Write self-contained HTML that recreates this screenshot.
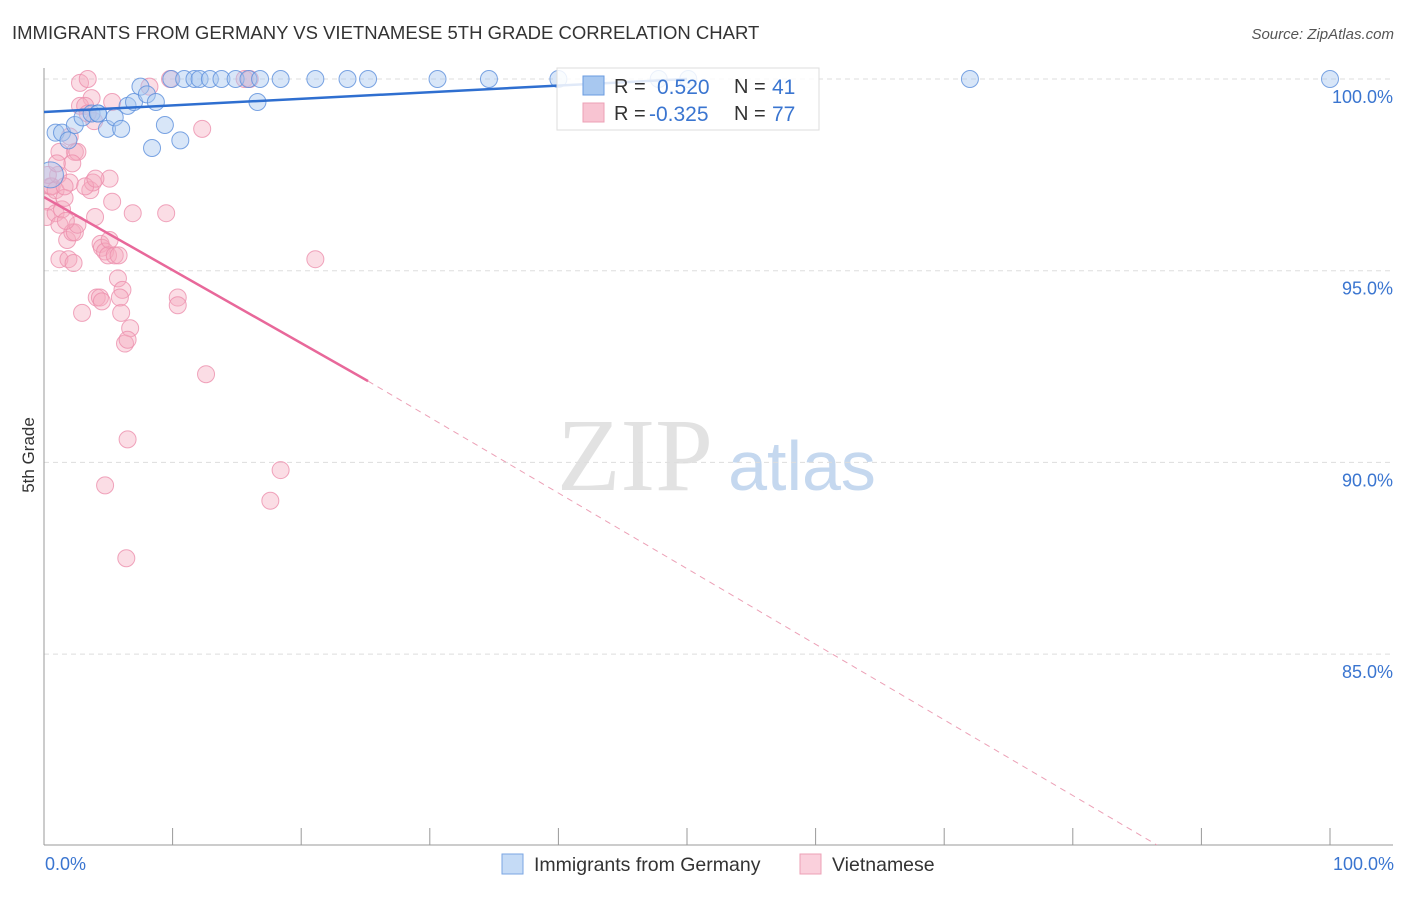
<!DOCTYPE html>
<html><head><meta charset="utf-8"><style>
body{margin:0;background:#fff;font-family:"Liberation Sans",sans-serif;}
svg text{font-family:"Liberation Sans",sans-serif;}
</style></head><body>
<svg id="chart" width="1406" height="892" xmlns="http://www.w3.org/2000/svg">
<text x="12" y="39" font-size="18.5" fill="#333">IMMIGRANTS FROM GERMANY VS VIETNAMESE 5TH GRADE CORRELATION CHART</text>
<text x="1394" y="39" font-size="15" fill="#555" font-style="italic" text-anchor="end">Source: ZipAtlas.com</text>
<text x="34" y="455" font-size="17" fill="#333" transform="rotate(-90 34 455)" text-anchor="middle">5th Grade</text>
<g><text x="635" y="490" font-size="104" fill="#e2e2e2" text-anchor="middle" style="font-family:'Liberation Serif',serif">ZIP</text><text x="802" y="490" font-size="70" fill="#c5d8ef" text-anchor="middle">atlas</text></g>
<g id="grid"></g><g id="axes"></g>
<defs><clipPath id="clip"><rect x="44" y="60" width="1350" height="785"/></clipPath></defs>
<g id="pts" clip-path="url(#clip)"></g><g id="lines" clip-path="url(#clip)"></g>
<g>
<rect x="557" y="68" width="262" height="62" fill="#fff" fill-opacity="0.85" stroke="#ddd"/>
<rect x="583" y="76" width="21" height="19" fill="#a8c8f0" stroke="#6a9be0"/>
<text x="614" y="93" font-size="20" fill="#333">R = </text><text x="657" y="94" font-size="21" fill="#3a75d0">0.520</text>
<text x="734" y="93" font-size="20" fill="#333">N = </text><text x="772" y="94" font-size="21" fill="#3a75d0">41</text>
<rect x="583" y="103" width="21" height="19" fill="#f8c4d2" stroke="#eca0b6"/>
<text x="614" y="120" font-size="20" fill="#333">R = </text><text x="649" y="121" font-size="21" fill="#3a75d0">-0.325</text>
<text x="734" y="120" font-size="20" fill="#333">N = </text><text x="772" y="121" font-size="21" fill="#3a75d0">77</text>
</g>
<g>
<rect x="502" y="854" width="21" height="20" fill="#c5dbf6" stroke="#7aa6e3"/>
<text x="534" y="871" font-size="19.5" fill="#333">Immigrants from Germany</text>
<rect x="800" y="854" width="21" height="20" fill="#fad0dc" stroke="#eca0b6"/>
<text x="832" y="871" font-size="19.5" fill="#333">Vietnamese</text>
</g>
</svg>
<script>
const yTicks=[100,95,90,85];
const yTickLabels=["100.0%","95.0%","90.0%","85.0%"];
const xTickLabels=["0.0%","100.0%"];
const germanyX=[0.5,0.9,1.4,1.9,2.4,3.0,3.7,4.2,4.9,5.5,6.0,6.5,7.0,7.5,8.0,8.7,8.4,9.4,10.6,9.9,10.9,11.7,12.1,12.9,13.8,14.9,15.9,16.8,18.4,21.1,23.6,25.2,30.6,34.6,40.0,47.8,50.1,72.0,100.0,16.6,4.2];
const germanyY=[97.5,98.6,98.6,98.4,98.8,99.0,99.1,99.1,98.7,99.0,98.7,99.3,99.4,99.8,99.6,99.4,98.2,98.8,98.4,100,100,100,100,100,100,100,100,100,100,100,100,100,100,100,100,100,100,100,100,99.4,99.1];
const vietX=[0.5,0.3,0.2,0.6,0.9,1.1,0.9,1.2,1.4,1.6,2.0,1.8,2.2,1.2,1.9,2.3,2.4,2.6,2.960,2.8,3.4,3.7,3.9,2.8,3.2,3.4,2.4,2.0,1.2,2.6,2.2,3.6,3.8,3.97,4.4,4.5,4.75,5.1,4.98,5.5,5.8,5.1,5.3,5.75,6.1,4.1,4.35,4.5,6.0,6.7,6.3,6.5,6.5,4.75,6.4,6.9,9.5,10.4,10.4,12.6,12.3,18.4,17.6,21.1,8.2,5.3,9.8,15.6,16.0,0.3,1.6,3.2,1.0,4.0,1.7,5.9];
const vietY=[97.2,96.8,96.4,97.2,97.1,97.5,96.5,96.2,96.6,96.9,97.3,95.8,96.0,95.3,95.3,95.2,96.0,96.2,93.9,99.9,100,99.5,98.9,99.3,99.3,99.1,98.1,98.5,98.1,98.1,97.8,97.1,97.3,96.4,95.7,95.6,95.5,95.8,95.4,95.4,95.4,97.4,96.8,94.8,94.5,94.3,94.3,94.2,93.9,93.5,93.1,93.2,90.6,89.4,87.5,96.5,96.5,94.3,94.1,92.3,98.7,89.8,89.0,95.3,99.8,99.4,100,100,100,97.5,97.2,97.2,97.8,97.4,96.3,94.3];
const germanyLine=[[0,99.14],[50,100.0]];
const vietLine=[[0,96.92],[25.2,92.12]];
const vietDash=[[25.2,92.12],[86.55,80.02]];
const X=v=>44+v*12.86, Y=v=>79+(100-v)*38.34;
const NS="http://www.w3.org/2000/svg";
function mk(t,a,p){const e=document.createElementNS(NS,t);for(const k in a)e.setAttribute(k,a[k]);p.appendChild(e);return e;}
const grid=document.getElementById('grid'),axes=document.getElementById('axes'),pts=document.getElementById('pts'),lines=document.getElementById('lines');
yTicks.forEach((t,i)=>{
 const l=mk('line',{x1:44,x2:1393,y1:Y(t),y2:Y(t),stroke:'#ddd','stroke-dasharray':'5,4'},grid);
 
 
 const tx=mk('text',{x:1393,y:Y(t)+24,'font-size':18,fill:'#3a75d0','text-anchor':'end'},axes);
 tx.textContent=yTickLabels[i];
 
 
});
const ax=mk('line',{x1:44,x2:44,y1:68,y2:845,stroke:'#999'},axes);

const bx=mk('line',{x1:44,x2:1393,y1:845,y2:845,stroke:'#999'},axes);

for(let i=0;i<=10;i++){const t=mk('line',{x1:X(i*10),x2:X(i*10),y1:828,y2:845,stroke:'#999'},axes);
 }
[[0,'start',45],[100,'end',1394]].forEach((d,i)=>{const t=mk('text',{x:d[2],y:870,'font-size':18,fill:'#3a75d0','text-anchor':d[1]},axes);t.textContent=xTickLabels[i];
 });
vietX.forEach((x,i)=>{const c=mk('circle',{cx:X(x),cy:Y(vietY[i]),r:8.5,fill:'#f6a9bf','fill-opacity':0.4,stroke:'#ec8fac','stroke-opacity':0.8},pts);
 });
germanyX.forEach((x,i)=>{const c=mk('circle',{cx:X(x),cy:Y(germanyY[i]),r:i==0?13:8.5,fill:'#a8c8f0','fill-opacity':0.45,stroke:'#5b8fdc','stroke-opacity':0.8},pts);
 });
const gl=mk('line',{x1:X(germanyLine[0][0]),y1:Y(germanyLine[0][1]),x2:X(germanyLine[1][0]),y2:Y(germanyLine[1][1]),stroke:'#2f6fd0','stroke-width':2.5},lines);

const vl=mk('line',{x1:X(vietLine[0][0]),y1:Y(vietLine[0][1]),x2:X(vietLine[1][0]),y2:Y(vietLine[1][1]),stroke:'#e8689a','stroke-width':2.5},lines);

const vd=mk('line',{x1:X(vietDash[0][0]),y1:Y(vietDash[0][1]),x2:X(vietDash[1][0]),y2:Y(vietDash[1][1]),stroke:'#eca0b6','stroke-width':1,'stroke-dasharray':'6,5'},lines);

</script>
</body></html>
